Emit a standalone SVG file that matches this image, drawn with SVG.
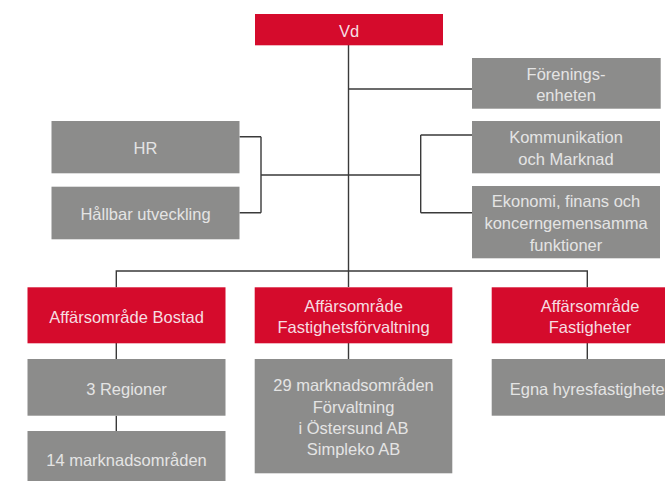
<svg xmlns="http://www.w3.org/2000/svg" width="665" height="481" viewBox="0 0 665 481">
<style>
.red{fill:#d50b2c}
.gray{fill:#8c8c8b}
text{font-family:"Liberation Sans",Arial,sans-serif;font-size:16.5px;text-anchor:middle}
.tr{fill:#f6dde1}
.tg{fill:#e4e4e4}
.conn{stroke:#3a3a3a;stroke-width:1.4;fill:none}
</style>
<rect width="665" height="481" fill="#ffffff"/>
<g id="connectors" class="conn">
<path d="M348.5 45V287"/>
<path d="M348.5 89H472"/>
<path d="M348.5 175H261M261 136.7V212.7M239.5 136.7H261M239.5 212.7H261"/>
<path d="M348.5 175H420.7M420.7 135V212.7M420.7 135H472M420.7 212.7H472"/>
<path d="M116.3 287.3V271H587.3V287.3"/>
<path d="M116.3 343V359M116.3 415.7V431"/>
<path d="M348.5 343V359"/>
<path d="M587.3 343V359"/>
</g>
<g id="vd"><rect class="red" x="255" y="14" width="188" height="31.3"/><text class="tr" x="349" y="36.5">Vd</text></g>
<g id="foreningsenheten"><rect class="gray" x="472" y="58" width="188.7" height="50.7"/><text class="tg" x="566" y="79.5">Förenings-</text><text class="tg" x="566" y="101.2">enheten</text></g>
<g id="hr"><rect class="gray" x="51.5" y="121" width="188" height="52.3"/><text class="tg" x="145.5" y="154.2">HR</text></g>
<g id="hallbar"><rect class="gray" x="51.5" y="186.7" width="188" height="52.6"/><text class="tg" x="145.5" y="220">Hållbar utveckling</text></g>
<g id="kommunikation"><rect class="gray" x="472" y="121" width="188" height="52.3"/><text class="tg" x="566" y="143.3">Kommunikation</text><text class="tg" x="566" y="165">och Marknad</text></g>
<g id="ekonomi"><rect class="gray" x="472" y="186" width="188" height="72.3"/><text class="tg" x="566" y="207.4">Ekonomi, finans och</text><text class="tg" x="566" y="229.1">koncerngemensamma</text><text class="tg" x="566" y="250.8">funktioner</text></g>
<g id="bostad"><rect class="red" x="27.5" y="287.3" width="198" height="56"/><text class="tr" x="126.5" y="322.5">Affärsområde Bostad</text></g>
<g id="fastighetsforvaltning"><rect class="red" x="254.7" y="287.3" width="197.6" height="56"/><text class="tr" x="353.5" y="311.6">Affärsområde</text><text class="tr" x="353.5" y="333.3">Fastighetsförvaltning</text></g>
<g id="fastigheter"><rect class="red" x="491.7" y="287.3" width="200" height="56"/><text class="tr" x="590" y="311.6">Affärsområde</text><text class="tr" x="590" y="333.3">Fastigheter</text></g>
<g id="regioner"><rect class="gray" x="27.5" y="359" width="198" height="56.7"/><text class="tg" x="126.5" y="394.8">3 Regioner</text></g>
<g id="marknadsomraden14"><rect class="gray" x="27.5" y="431" width="198" height="56"/><text class="tg" x="126.5" y="465.5">14 marknadsområden</text></g>
<g id="marknadsomraden29"><rect class="gray" x="254.7" y="359" width="197.6" height="114.3"/><text class="tg" x="353.5" y="390.8">29 marknadsområden</text><text class="tg" x="353.5" y="412.6">Förvaltning</text><text class="tg" x="353.5" y="434.2">i Östersund AB</text><text class="tg" x="353.5" y="455.3">Simpleko AB</text></g>
<g id="egna"><rect class="gray" x="491.7" y="359" width="200" height="56.7"/><text class="tg" x="590" y="394.8">Egna hyresfastigheter</text></g>
</svg>
